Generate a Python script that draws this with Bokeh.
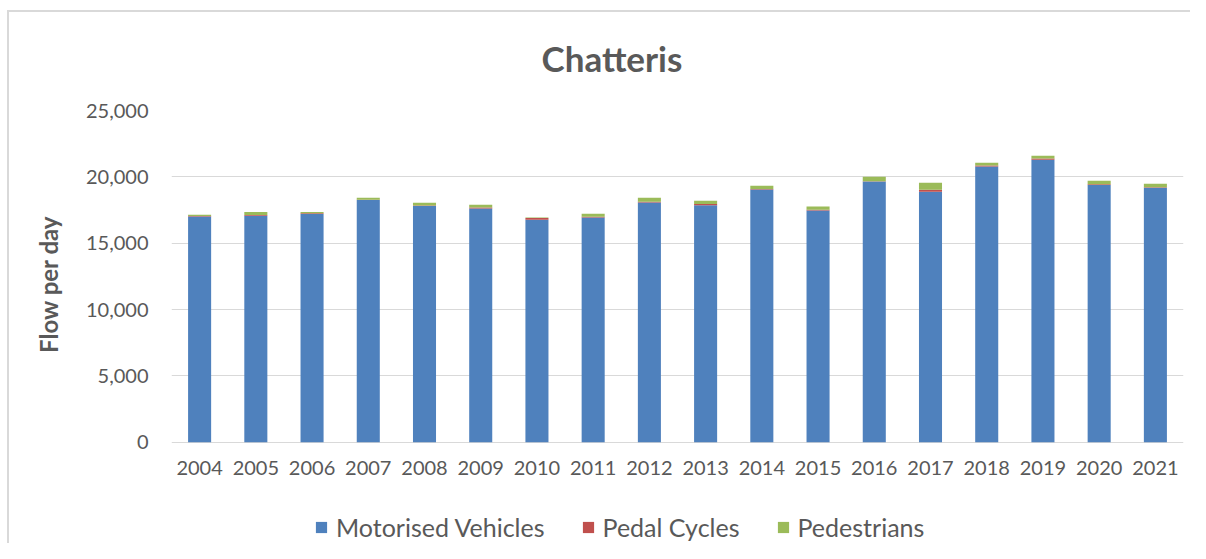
from bokeh.plotting import figure
from bokeh.models import Legend, LegendItem, NumeralTickFormatter, Range1d, FactorRange, Title
from bokeh.embed import file_html
from bokeh.resources import INLINE

years = [str(y) for y in range(2004, 2022)]
motorised = [17020, 17070, 17200, 18250, 17800, 17620, 16770, 16940, 18070, 17850,
             19050, 17470, 19650, 18880, 20780, 21290, 19380, 19180]
pedal = [20, 50, 50, 30, 40, 60, 120, 50, 60, 100, 30, 50, 20, 150, 70, 100, 60, 30]
pedestrians = [110, 230, 100, 150, 210, 220, 50, 230, 300, 250, 250, 250, 340, 530,
               210, 200, 260, 270]
series = ["Motorised Vehicles", "Pedal Cycles", "Pedestrians"]
colors = ["#4F81BD", "#C0504D", "#9BBB59"]
y_ticks = [0, 5000, 10000, 15000, 20000, 25000]

FONT = "Lato"
GREY = "#595959"

# frame spans to the bottom so the legend can sit inside it, under the axis
p = figure(width=1190, height=543, x_range=FactorRange(*years), y_range=Range1d(-7635, 25000),
           output_backend="svg", toolbar_location=None,
           min_border_left=171, min_border_right=7, min_border_top=110, min_border_bottom=0)
# light chart-area border (left and top edges) drawn behind a transparent canvas
p.background_fill_color = None
p.border_fill_color = None
p.styles = {
    "background": ("linear-gradient(#d9d9d9, #d9d9d9) 7px 10px / 2px 100% no-repeat, "
                   "linear-gradient(#d9d9d9, #d9d9d9) 7px 10px / 100% 2px no-repeat, #ffffff"),
}

data = dict(years=years, **{series[0]: motorised, series[1]: pedal, series[2]: pedestrians})
renderers = p.vbar_stack(series, x="years", width=0.41, color=colors, source=data,
                         line_color=None)

p.title.text = "Chatteris"
p.title.align = "left"
p.title.offset = 370
p.title.text_font = FONT
p.title.text_font_size = "35px"
p.title.text_font_style = "bold"
p.title.text_color = GREY
p.title.standoff = 64

p.outline_line_color = None
p.xgrid.grid_line_color = None
p.ygrid.grid_line_color = "#d9d9d9"
p.ygrid.grid_line_width = 1

p.yaxis.ticker = y_ticks
p.yaxis.formatter = NumeralTickFormatter(format="0,0")
for ax in (p.xaxis, p.yaxis):
    ax.axis_line_color = None
    ax.major_tick_line_color = None
    ax.minor_tick_line_color = None
    ax.major_tick_out = 0
    ax.major_tick_in = 0
    ax.major_label_text_font = FONT
    ax.major_label_text_font_size = "20px"
    ax.major_label_text_color = GREY
p.xaxis.fixed_location = 0
p.xaxis.major_label_standoff = 19
p.yaxis.major_label_standoff = 23

ylabel = Title(text="Flow per day", align="right", offset=105, text_font=FONT,
               text_font_size="24px", text_font_style="bold", text_color=GREY, standoff=40)
p.add_layout(ylabel, "left")

items = [LegendItem(label=s, renderers=[r]) for s, r in zip(series, renderers)]
legend = Legend(items=items, orientation="horizontal", location=(143, 1),
                label_text_font=FONT, label_text_font_size="25px", label_text_color=GREY,
                glyph_width=14, glyph_height=14, label_standoff=8, spacing=36,
                padding=0, margin=0, border_line_color=None, background_fill_alpha=0)
p.add_layout(legend)

open("out.html", "w").write(file_html(p, INLINE))
